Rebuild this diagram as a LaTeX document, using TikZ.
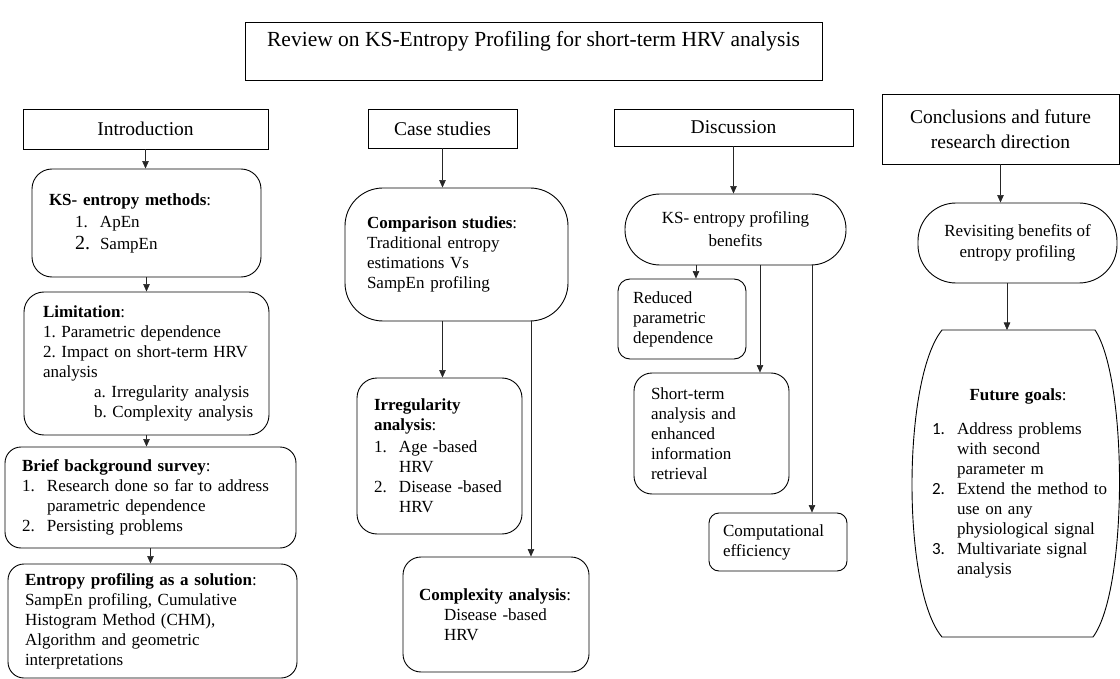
\documentclass[tikz,border=0pt]{standalone}
\usepackage{fontspec}
\setmainfont{Liberation Serif}
\newfontfamily\numfont{Carlito}
\usetikzlibrary{arrows.meta}
\tikzstyle{entete} = [draw, line width=0.9pt, align=center, font=\fontsize{19.5}{24}\selectfont]
\tikzstyle{bloc} = [draw, line width=0.9pt, rounded corners=16pt, align=left, inner ysep=3pt]
\tikzstyle{capsule} = [bloc, align=center, rounded corners=35pt]
\tikzstyle{fleche} = [draw, line width=0.6pt, black!85, -{Triangle[length=7.5pt,width=6.5pt]}]
\tikzstyle{forme} = [draw, line width=0.9pt]
\newcommand{\numbox}[1]{\makebox[25pt][l]{#1}}
\newcommand{\retrait}{\hspace*{25pt}}
\frenchspacing
\hyphenpenalty=10000
\exhyphenpenalty=10000

\begin{document}
\begin{tikzpicture}[x=1pt, y=-1pt, font=\fontsize{17}{20}\selectfont]
    \useasboundingbox (0,0) rectangle (1120,679);
    % titres
    \node[entete, minimum width=577pt, minimum height=58pt, font=\fontsize{21.5}{24}\selectfont] (review) at (533.5,51) {Review on KS-Entropy Profiling for short-term HRV analysis\\ \mbox{}};
    \node[entete, minimum width=245pt, minimum height=40pt] (intro) at (145.5,129) {Introduction};
    \node[entete, minimum width=149pt, minimum height=39pt] (case) at (442.5,128.5) {Case studies};
    \node[entete, minimum width=239pt, minimum height=37pt] (disc) at (733.5,127.5) {Discussion};
    \node[entete, minimum width=237pt, minimum height=70pt] (concl) at (1000.5,129) {Conclusions and future\\[1pt] research direction};
    % introduction
    \node[bloc, text width=195pt, inner xsep=17pt, minimum height=108pt, rounded corners=20pt] (ks) at (146.5,223)
        {\textbf{KS- entropy methods}:\\[2pt] \hspace*{26pt}\numbox{1.}ApEn\\[2pt] \hspace*{26pt}\numbox{\fontsize{20}{22}\selectfont 2.}SampEn};
    \node[bloc, text width=217pt, inner xsep=14pt, minimum height=143pt, rounded corners=20pt] (limit) at (146.5,363.5)
        {\hspace*{5pt}\textbf{Limitation}:\\ \hspace*{5pt}1. Parametric dependence\\ \hspace*{5pt}2. Impact on short-term HRV\\ \hspace*{5pt}analysis\\ \hspace*{56pt}a. Irregularity analysis\\ \hspace*{56pt}b. Complexity analysis};
    \node[bloc, text width=257pt, inner xsep=17pt, minimum height=101pt] (brief) at (150.5,497.5)
        {\textbf{Brief background survey}:\\ \numbox{1.}Research done so far to address\\ \retrait parametric dependence\\ \numbox{2.}Persisting problems};
    \node[bloc, text width=255pt, inner xsep=17pt, minimum height=114pt] (sol) at (152.5,621)
        {\textbf{Entropy profiling as a solution}:\\ SampEn profiling, Cumulative\\ Histogram Method (CHM),\\ Algorithm and geometric\\ interpretations};
    % cas
    \node[bloc, text width=179pt, inner xsep=22pt, minimum height=133pt, rounded corners=38pt] (comp) at (456.5,254.5)
        {\textbf{Comparison studies}:\\ Traditional entropy\\ estimations Vs\\ SampEn profiling};
    \node[bloc, text width=131pt, inner xsep=17pt, minimum height=156pt, rounded corners=20pt] (irreg) at (439.5,456)
        {\textbf{Irregularity}\\ \textbf{analysis}:\\[2pt] \numbox{1.}Age -based\\ \retrait HRV\\ \numbox{2.}Disease -based\\ \retrait HRV};
    \node[bloc, text width=154pt, inner xsep=16pt, minimum height=115pt, rounded corners=18pt] (cplx) at (496,614.5)
        {\textbf{Complexity analysis}:\\ \retrait Disease -based\\ \retrait HRV};
    % discussion
    \node[capsule, minimum width=221pt, minimum height=71pt] (ksb) at (735.5,229.5) {KS- entropy profiling\\[3pt] benefits};
    \node[bloc, text width=98pt, inner xsep=15pt, minimum height=80pt, rounded corners=12pt] (red) at (682,319)
        {Reduced\\ parametric\\ dependence};
    \node[bloc, text width=121pt, inner xsep=17pt, minimum height=121pt, rounded corners=18pt] (short) at (711.5,433.5)
        {Short-term\\ analysis and\\ enhanced\\ information\\ retrieval};
    \node[bloc, text width=110pt, inner xsep=14pt, minimum height=58pt, rounded corners=10pt] (compu) at (778,542)
        {Computational\\ efficiency};
    % conclusions
    \node[capsule, minimum width=199pt, minimum height=80pt, rounded corners=38pt] (revisit) at (1017.5,243) {Revisiting benefits of\\[1pt] entropy profiling};
    \draw[forme] (942,330) -- (1095,330) .. controls (1128,380) and (1128,590) .. (1093,637) -- (942,637) .. controls (902,590) and (902,380) .. (942,330) -- cycle;
    \coordinate (goalstop) at (1007,330);
    \node[text width=180pt, align=left, inner sep=0pt] (goals) at (1022,483)
        {\makebox[172pt]{\textbf{Future goals}:}\\[14pt]
         \numbox{\numfont 1.}Address problems\\ \retrait with second\\ \retrait parameter m\\
         \numbox{\numfont 2.}Extend the method to\\ \retrait use on any\\ \retrait physiological signal\\
         \numbox{\numfont 3.}Multivariate signal\\ \retrait analysis};
    % liens
    \foreach \source/\dest in {intro/ks, ks/limit, limit/brief, brief/sol, case/comp, disc/ksb, concl/revisit}
        \path[fleche] (\source.south) -- (\source.south |- \dest.north);
    \path[fleche] ([xshift=3pt]irreg.north |- comp.south) -- ([xshift=3pt]irreg.north);
    \path[fleche] ([xshift=35pt]cplx.north |- comp.south) -- ([xshift=35pt]cplx.north);
    \foreach \dest/\dx in {red/14, short/48.5, compu/34}
        \path[fleche] ([xshift=\dx pt]\dest.north |- ksb.south) -- ([xshift=\dx pt]\dest.north);
    \path[fleche] (goalstop |- revisit.south) -- (goalstop);
\end{tikzpicture}
\end{document}
